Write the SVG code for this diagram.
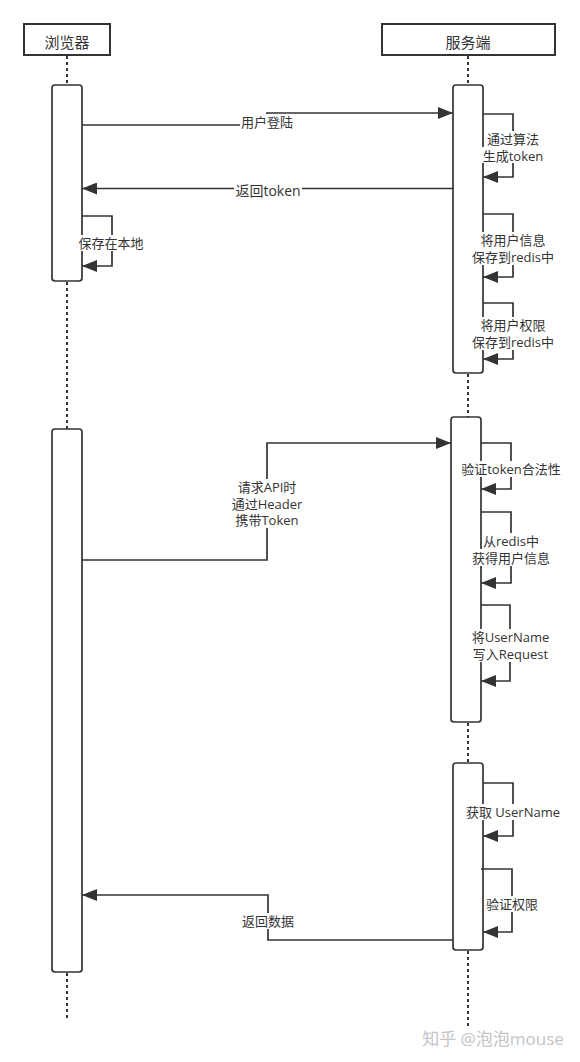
<svg xmlns="http://www.w3.org/2000/svg" width="580" height="1062" viewBox="0 0 580 1062">
<style>
.hdr{fill:#fff;stroke:#333;stroke-width:2}
.act{fill:#fff;stroke:#333;stroke-width:1.7}
.life{stroke:#333;stroke-width:2;stroke-dasharray:3 3;fill:none}
.msg{fill:none;stroke:#333;stroke-width:1.7;marker-end:url(#ah)}
.bg{fill:#fff}
text{font-family:"Open Sans","Noto Sans CJK SC",sans-serif;font-size:13px;fill:#333;text-anchor:middle;dominant-baseline:central}
.ht{font-size:15px}
.wm{font-size:17px;fill:#c4c4c4}
</style>
<defs>
<marker id="ah" markerWidth="16" markerHeight="12" refX="15" refY="6" orient="auto" markerUnits="userSpaceOnUse">
<path d="M0,0 L15,6 L0,12 z" fill="#333"/>
</marker>
</defs>
<rect width="580" height="1062" fill="#fff"/>

<g id="lifelines">
<line class="life" x1="67" y1="56" x2="67" y2="85"/>
<line class="life" x1="67" y1="282" x2="67" y2="429"/>
<line class="life" x1="67" y1="973" x2="67" y2="1018"/>
<line class="life" x1="468" y1="56" x2="468" y2="85"/>
<line class="life" x1="468" y1="374" x2="468" y2="417"/>
<line class="life" x1="468" y1="723" x2="468" y2="763"/>
<line class="life" x1="468" y1="951" x2="468" y2="1026"/>
</g>

<g id="browser">
<rect class="hdr" x="24" y="24" width="86" height="31"/>
<text class="ht" x="67" y="42">浏览器</text>
</g>
<g id="server">
<rect class="hdr" x="382" y="24" width="173" height="31"/>
<text class="ht" x="468" y="42">服务端</text>
</g>
<g id="browser-act1"><rect class="act" x="52" y="85" width="30" height="196" rx="3"/></g>
<g id="browser-act2"><rect class="act" x="52" y="429" width="30" height="543" rx="3"/></g>
<g id="server-act1"><rect class="act" x="453" y="85" width="30" height="288" rx="3"/></g>
<g id="server-act2"><rect class="act" x="451" y="417" width="30" height="305" rx="3"/></g>
<g id="server-act3"><rect class="act" x="453" y="763" width="30" height="187" rx="3"/></g>

<g id="connectors">
<path class="msg" d="M82,125 H267 V113 H453"/>
<path class="msg" d="M453,188.5 H82"/>
<path class="msg" d="M82,216 H112 V266 H82"/>
<path class="msg" d="M483,114 H513 V177 H483"/>
<path class="msg" d="M483,214 H513 V277 H483"/>
<path class="msg" d="M483,303 H513 V359 H483"/>
<path class="msg" d="M82,560 H267 V443 H451"/>
<path class="msg" d="M481,443 H511 V489 H481"/>
<path class="msg" d="M481,512 H511 V583 H481"/>
<path class="msg" d="M481,605 H510 V681 H481"/>
<path class="msg" d="M483,783 H513 V836 H483"/>
<path class="msg" d="M481,869 H512 V932 H483"/>
<path class="msg" d="M453,940 H268 V895 H82"/>
</g>

<g id="labels">
<rect class="bg" x="240" y="114" width="54" height="16"/>
<text x="267" y="122">用户登陆</text>
<rect class="bg" x="234" y="182" width="68" height="16"/>
<text x="268" y="190" style="font-size:14px">返回token</text>
<rect class="bg" x="78" y="235" width="66" height="16"/>
<text x="111" y="243">保存在本地</text>
<rect class="bg" x="486" y="131" width="54" height="16"/>
<rect class="bg" x="482" y="147" width="62" height="16"/>
<text x="513" y="139">通过算法</text>
<text x="513" y="155.5">生成token</text>
<rect class="bg" x="480" y="232" width="66" height="16"/>
<rect class="bg" x="471" y="248" width="84" height="17"/>
<text x="513" y="240">将用户信息</text>
<text x="513" y="257">保存到redis中</text>
<rect class="bg" x="480" y="317" width="66" height="16"/>
<rect class="bg" x="471" y="333" width="84" height="17"/>
<text x="513" y="324.5">将用户权限</text>
<text x="513" y="341.5">保存到redis中</text>
<rect class="bg" x="231" y="479" width="72" height="49"/>
<text x="267" y="487">请求API时</text>
<text x="267" y="503.5">通过Header</text>
<text x="267" y="520">携带Token</text>
<rect class="bg" x="461" y="461" width="100" height="16"/>
<text x="511" y="469">验证token合法性</text>
<rect class="bg" x="483" y="533" width="56" height="16"/>
<rect class="bg" x="472" y="549" width="78" height="17"/>
<text x="511" y="541">从redis中</text>
<text x="511" y="557.5">获得用户信息</text>
<rect class="bg" x="472" y="629" width="77" height="16"/>
<rect class="bg" x="472" y="645" width="77" height="17"/>
<text x="510.5" y="637">将UserName</text>
<text x="510.5" y="653.5">写入Request</text>
<rect class="bg" x="466" y="804" width="94" height="16"/>
<text x="513" y="812">获取 UserName</text>
<rect class="bg" x="486" y="896" width="53" height="16"/>
<text x="512" y="904">验证权限</text>
<rect class="bg" x="241" y="913" width="54" height="16"/>
<text x="268" y="921">返回数据</text>
</g>

<text class="wm" x="493" y="1038">知乎 @泡泡mouse</text>
</svg>
